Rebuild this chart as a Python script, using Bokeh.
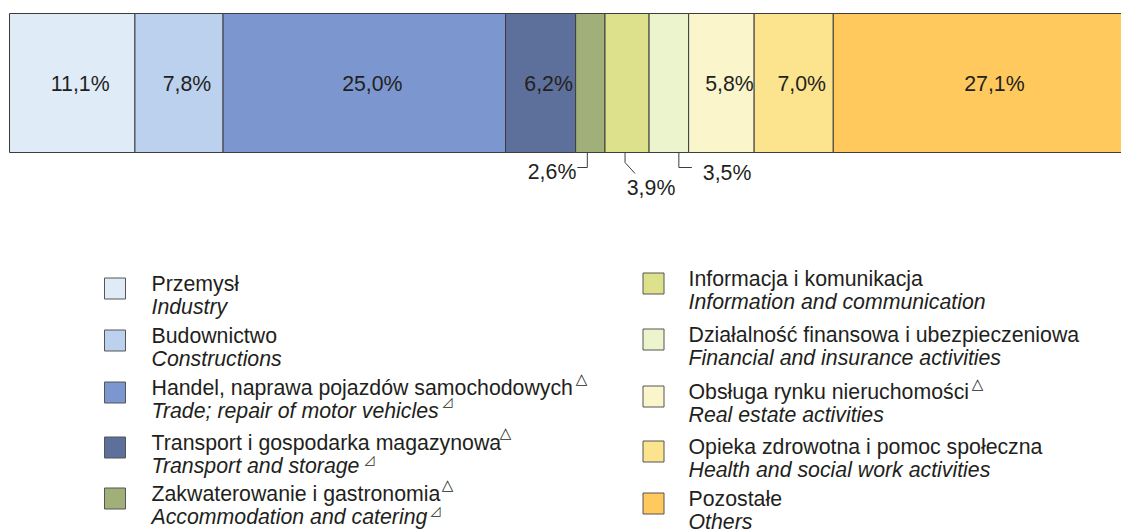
from bokeh.plotting import figure
from bokeh.models import Range1d
from bokeh.core.properties import value
from bokeh.embed import file_html
from bokeh.resources import INLINE
import numpy as np

# ---------------- data ----------------
categories_pl = [
    "Przemysł",
    "Budownictwo",
    "Handel, naprawa pojazdów samochodowych",
    "Transport i gospodarka magazynowa",
    "Zakwaterowanie i gastronomia",
    "Informacja i komunikacja",
    "Działalność finansowa i ubezpieczeniowa",
    "Obsługa rynku nieruchomości",
    "Opieka zdrowotna i pomoc społeczna",
    "Pozostałe",
]
categories_en = [
    "Industry",
    "Constructions",
    "Trade; repair of motor vehicles",
    "Transport and storage",
    "Accommodation and catering",
    "Information and communication",
    "Financial and insurance activities",
    "Real estate activities",
    "Health and social work activities",
    "Others",
]
shares = [11.1, 7.8, 25.0, 6.2, 2.6, 3.9, 3.5, 5.8, 7.0, 27.1]
colors = ["#E0EBF8", "#BCD1EE", "#7C97CF", "#5D6F9B", "#A1AF79",
          "#DDE18C", "#ECF4CD", "#FAF5CB", "#FCE38D", "#FFC95D"]
labels = [f"{v:.1f}".replace(".", ",") + "%" for v in shares]
inside = [True, True, True, True, False, False, False, True, True, True]

# ---------------- layout ----------------
W, H = 1121, 532
PX_PER_PCT = 11.3
X0 = 9  # page x of 0 %
FONT = value("Liberation Sans")
TXT = "#231F20"
FS = "21.3px"

p = figure(width=W, height=H, output_backend="svg", toolbar_location=None,
           x_range=Range1d((0 - X0) / PX_PER_PCT, (W - X0) / PX_PER_PCT),
           y_range=Range1d(H, 0), min_border=0)
p.extra_x_ranges = {"px": Range1d(0, W)}
p.axis.visible = False
p.grid.visible = False
p.outline_line_color = None
p.background_fill_color = "white"
p.border_fill_color = "white"

cum = np.cumsum([0] + shares)
left = cum[:-1]
right = cum[1:]
mid = (left + right) / 2

BAR_TOP, BAR_BOT = 13, 152
p.quad(left=left, right=right, bottom=BAR_BOT, top=BAR_TOP,
       fill_color=colors, line_color="#3C3C3C", line_width=1)

# labels inside bars
ins = [i for i in range(len(shares)) if inside[i]]
p.text(x=[mid[i] for i in ins], y=[83] * len(ins), text=[labels[i] for i in ins],
       text_font=FONT, text_font_size=FS, text_color=TXT,
       text_align="center", text_baseline="middle", x_offset=8)

# small labels below with leader lines
d = 1 / PX_PER_PCT
# 2,6 %
i = 4
xa = mid[i] - 3 * d
p.line(x=[xa, xa, xa - 10 * d], y=[BAR_BOT, 167, 167], line_color="#3C3C3C", line_width=1)
p.text(x=[xa - 11 * d], y=[171], text=[labels[i]], text_font=FONT, text_font_size=FS,
       text_color=TXT, text_align="right", text_baseline="middle")
# 3,9 %
i = 5
xa = mid[i] - 2 * d
p.line(x=[xa, xa, xa + 10 * d], y=[BAR_BOT, 162, 173], line_color="#3C3C3C", line_width=1)
p.text(x=[xa + 26 * d], y=[187], text=[labels[i]], text_font=FONT, text_font_size=FS,
       text_color=TXT, text_align="center", text_baseline="middle")
# 3,5 %
i = 6
xa = mid[i] + 10 * d
p.line(x=[xa, xa, xa + 13 * d], y=[BAR_BOT, 167, 167], line_color="#3C3C3C", line_width=1)
p.text(x=[xa + 24 * d], y=[172], text=[labels[i]], text_font=FONT, text_font_size=FS,
       text_color=TXT, text_align="left", text_baseline="middle")

# ---------------- legend ----------------
left_col = dict(sq_x=114.5, tx=151, rows=[283, 335, 387, 442, 493])
right_col = dict(sq_x=653, tx=688, rows=[278, 334, 391, 446, 498])
for col, idx in ((left_col, range(0, 5)), (right_col, range(5, 10))):
    idx = list(idx)
    ys = col["rows"]
    p.rect(x=[col["sq_x"]] * 5, y=[y + 5 for y in ys], width=21, height=21,
           width_units="screen", height_units="screen",
           fill_color=[colors[i] for i in idx], line_color="#555555", line_width=1,
           x_range_name="px")
    p.text(x=[col["tx"]] * 5, y=ys, text=[categories_pl[i] for i in idx],
           text_font=FONT, text_font_size=FS, text_color=TXT,
           text_align="left", text_baseline="middle", x_range_name="px")
    p.text(x=[col["tx"]] * 5, y=[y + 23 for y in ys], text=[categories_en[i] for i in idx],
           text_font=FONT, text_font_size=FS, text_font_style="italic", text_color=TXT,
           text_align="left", text_baseline="middle", x_range_name="px")

# revision marks (triangles)
tri_x = [581, 977, 505, 447]
tri_y = [378, 383, 432, 484]
p.text(x=tri_x, y=tri_y, text=["△"] * 4, text_font=value("DejaVu Sans"), text_font_size="15px",
       text_color=TXT, text_align="center", text_baseline="middle", x_range_name="px")
tri2_x = [447, 369, 435]
tri2_y = [401, 459, 510]
p.text(x=tri2_x, y=tri2_y, text=["◿"] * 3, text_font=value("DejaVu Sans"), text_font_size="13px",
       text_color=TXT, text_align="center", text_baseline="middle", x_range_name="px")

open("out.html", "w").write(file_html(p, INLINE))
